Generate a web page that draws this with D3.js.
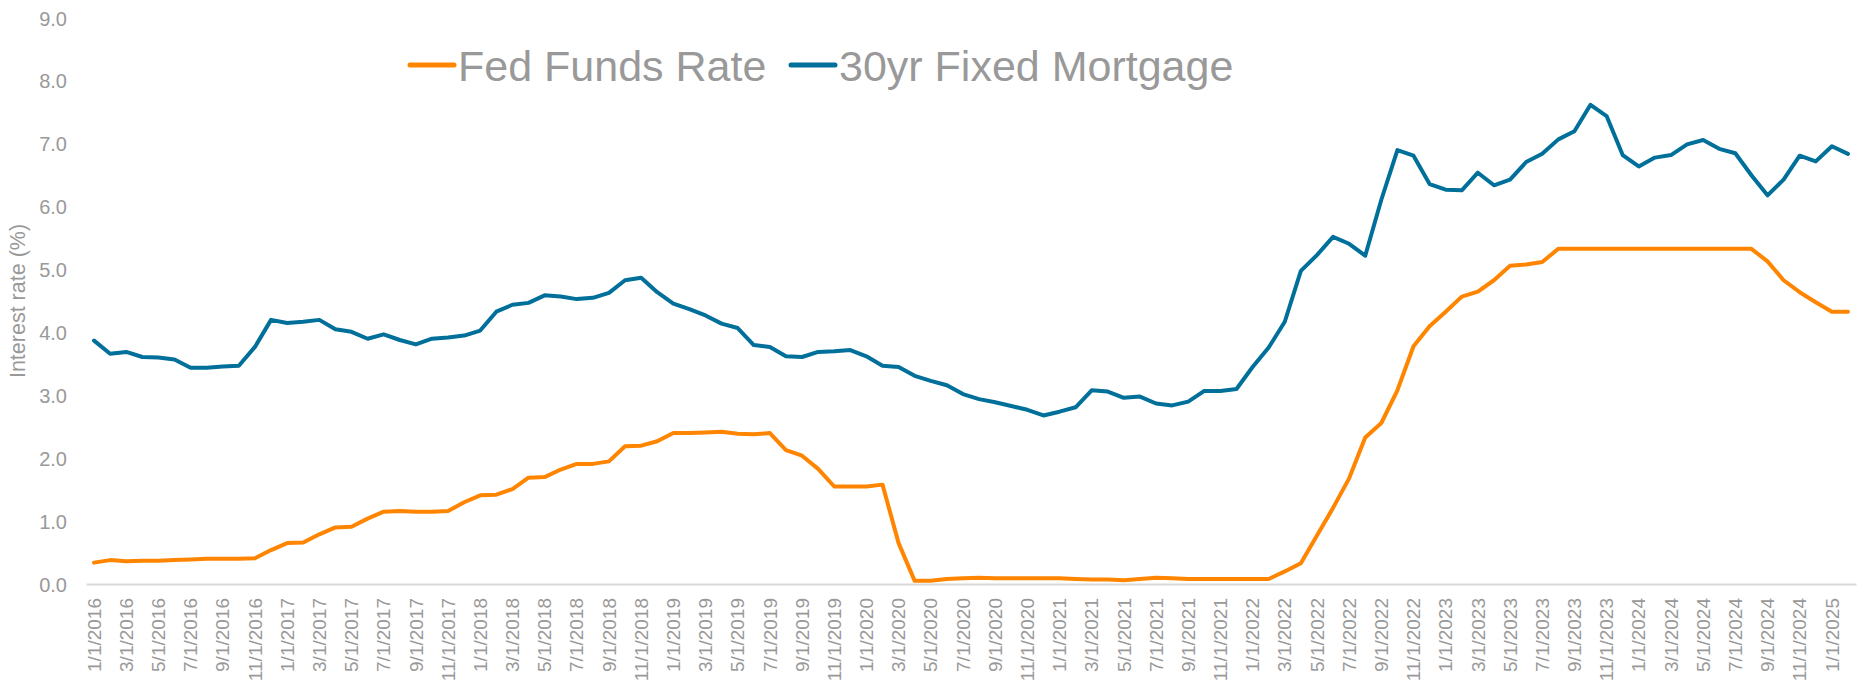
<!DOCTYPE html>
<html>
<head>
<meta charset="utf-8">
<script src="https://cdn.jsdelivr.net/npm/d3@7/dist/d3.min.js"></script>
<style>
  html, body { margin: 0; padding: 0; background: #ffffff; }
  svg { display: block; font-family: "Liberation Sans", Arial, sans-serif; }
</style>
</head>
<body>
<svg id="chart" width="1864" height="684"></svg>
<script>
// Monthly dates, 1/1/2016 .. 2/1/2025
const months = [];
for (let yr = 2016; yr <= 2025; yr++) {
  for (let m = 1; m <= 12; m++) {
    if (yr === 2025 && m > 2) break;
    months.push(m + "/1/" + yr);
  }
}

const fedFunds = [
  0.34, 0.38, 0.36, 0.37, 0.37, 0.38, 0.39, 0.40, 0.40, 0.40, 0.41, 0.54,
  0.65, 0.66, 0.79, 0.90, 0.91, 1.04, 1.15, 1.16, 1.15, 1.15, 1.16, 1.30,
  1.41, 1.42, 1.51, 1.69, 1.70, 1.82, 1.91, 1.91, 1.95, 2.19, 2.20, 2.27,
  2.40, 2.40, 2.41, 2.42, 2.39, 2.38, 2.40, 2.13, 2.04, 1.83, 1.55, 1.55,
  1.55, 1.58, 0.65, 0.05, 0.05, 0.08, 0.09, 0.10, 0.09, 0.09, 0.09, 0.09,
  0.09, 0.08, 0.07, 0.07, 0.06, 0.08, 0.10, 0.09, 0.08, 0.08, 0.08, 0.08,
  0.08, 0.08, 0.20, 0.33, 0.77, 1.21, 1.68, 2.33, 2.56, 3.08, 3.78, 4.10,
  4.33, 4.57, 4.65, 4.83, 5.06, 5.08, 5.12, 5.33, 5.33, 5.33, 5.33, 5.33,
  5.33, 5.33, 5.33, 5.33, 5.33, 5.33, 5.33, 5.33, 5.13, 4.83, 4.64, 4.48,
  4.33, 4.33
];

const mortgage30 = [
  3.87, 3.66, 3.69, 3.61, 3.60, 3.57, 3.44, 3.44, 3.46, 3.47, 3.77, 4.20,
  4.15, 4.17, 4.20, 4.05, 4.01, 3.90, 3.97, 3.88, 3.81, 3.90, 3.92, 3.95,
  4.03, 4.33, 4.44, 4.47, 4.59, 4.57, 4.53, 4.55, 4.63, 4.83, 4.87, 4.64,
  4.46, 4.37, 4.27, 4.14, 4.07, 3.80, 3.77, 3.62, 3.61, 3.69, 3.70, 3.72,
  3.62, 3.47, 3.45, 3.31, 3.23, 3.16, 3.02, 2.94, 2.89, 2.83, 2.77, 2.68,
  2.74, 2.81, 3.08, 3.06, 2.96, 2.98, 2.87, 2.84, 2.90, 3.07, 3.07, 3.10,
  3.45, 3.76, 4.17, 4.98, 5.23, 5.52, 5.41, 5.22, 6.11, 6.90, 6.81, 6.36,
  6.27, 6.26, 6.54, 6.34, 6.43, 6.71, 6.84, 7.07, 7.20, 7.62, 7.44, 6.82,
  6.64, 6.78, 6.82, 6.99, 7.06, 6.92, 6.85, 6.50, 6.18, 6.43, 6.81, 6.72,
  6.96, 6.84
];

const yTicks = [0, 1, 2, 3, 4, 5, 6, 7, 8, 9];
const xTickLabels = months.filter((d, i) => i % 2 === 0);

const seriesNames = ["Fed Funds Rate", "30yr Fixed Mortgage"];
const seriesColors = ["#ff8500", "#00709a"];

const svg = d3.select("#chart");
const plotLeft = 86, plotRight = 1856, plotTop = 18, plotBottom = 584;

const x = d3.scaleBand().domain(months).range([plotLeft, plotRight]);
const y = d3.scaleLinear().domain([0, 9]).range([plotBottom, plotTop]);
const textColor = "#999999";

// Y axis (labels only)
const yAxis = d3.axisLeft(y).tickValues(yTicks).tickFormat(d3.format(".1f")).tickSize(0).tickPadding(0);
const gy = svg.append("g").attr("transform", `translate(${plotLeft - 19},0)`).call(yAxis);
gy.select(".domain").remove();
gy.selectAll("text").attr("fill", textColor).style("font-size", "20px")
  .attr("dy", "0.35em");

// X axis
const xAxis = d3.axisBottom(x).tickValues(xTickLabels).tickSize(0).tickPadding(0);
const gx = svg.append("g").attr("transform", `translate(0,${plotBottom})`).call(xAxis);
gx.select(".domain").attr("stroke", "#d9d9d9").attr("stroke-width", 2);
gx.selectAll("text")
  .attr("fill", textColor)
  .style("font-size", "19px")
  .attr("text-anchor", "end")
  .attr("transform", "translate(0,14) rotate(-90)")
  .attr("x", 0).attr("y", 0).attr("dy", "0.35em");

// Y title
svg.append("text")
  .attr("transform", `translate(25,301) rotate(-90)`)
  .attr("text-anchor", "middle")
  .attr("fill", textColor)
  .style("font-size", "21.5px")
  .text("Interest rate (%)");

// Lines
const line = d3.line()
  .x((d, i) => x(months[i]) + x.bandwidth() / 2)
  .y(d => y(d));

[fedFunds, mortgage30].forEach((s, k) => {
  svg.append("path")
    .datum(s)
    .attr("fill", "none")
    .attr("stroke", seriesColors[k])
    .attr("stroke-width", 4)
    .attr("stroke-linejoin", "round")
    .attr("stroke-linecap", "round")
    .attr("d", line);
});

// Legend
const legendItems = [
  { name: seriesNames[0], color: seriesColors[0], x: 410 },
  { name: seriesNames[1], color: seriesColors[1], x: 791 }
];
legendItems.forEach(it => {
  svg.append("line")
    .attr("x1", it.x).attr("x2", it.x + 44)
    .attr("y1", 65).attr("y2", 65)
    .attr("stroke", it.color).attr("stroke-width", 5)
    .attr("stroke-linecap", "round");
  svg.append("text")
    .attr("x", it.x + 48).attr("y", 81)
    .attr("fill", "#999999")
    .style("font-size", "43px")
    .text(it.name);
});
</script>
</body>
</html>
